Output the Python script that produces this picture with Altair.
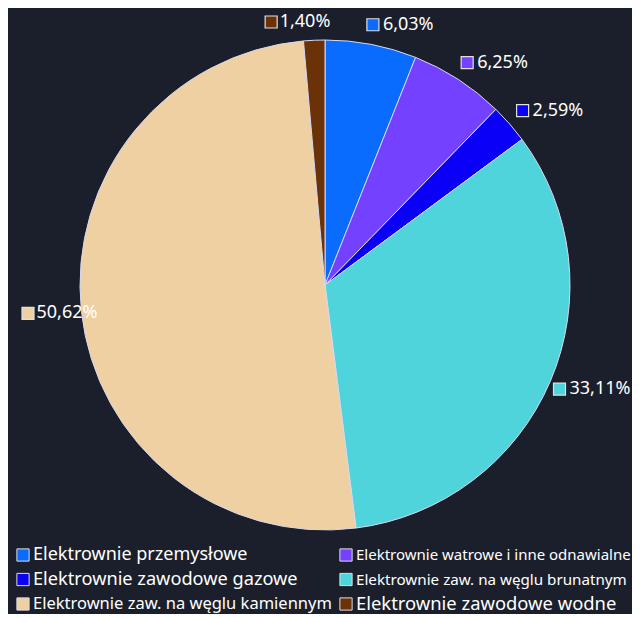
import altair as alt
import pandas as pd

categories = [
    "Elektrownie przemysłowe",
    "Elektrownie watrowe i inne odnawialne",
    "Elektrownie zawodowe gazowe",
    "Elektrownie zaw. na węglu brunatnym",
    "Elektrownie zaw. na węglu kamiennym",
    "Elektrownie zawodowe wodne",
]
values = [6.03, 6.25, 2.59, 33.11, 50.62, 1.40]
colors = ["#0a6cff", "#7341ff", "#0a00f5", "#4fd4dc", "#efd0a2", "#6b3208"]
labels = [f"{v:.2f}".replace(".", ",") + "%" for v in values]

df = pd.DataFrame({"cat": categories, "value": values, "idx": list(range(len(values))), "label": labels})

# style constants
W, H = 624, 606
CX, CY, R, LR = 317, 277, 245, 265
FONT = "Noto Sans"
LEG_SIZES = "[18, 15, 18.2, 15.2, 16.5, 18.4]"   # legend label font sizes by entry
LEG_X0, LEG_X1, LEG_Y0, LEG_DY = 15, 338, 547, 24.5

scale = alt.Scale(domain=categories, range=colors)

base = alt.Chart(df)

pie = base.mark_arc(outerRadius=R, stroke="#d8d8f0", strokeWidth=1).encode(
    theta=alt.Theta("value:Q", stack=True),
    order=alt.Order("idx:Q"),
    color=alt.Color("cat:N", scale=scale, legend=None),
    x=alt.value(CX),
    y=alt.value(CY),
)

lab = (
    base.transform_joinaggregate(total="sum(value)")
    .transform_window(cum="sum(value)", sort=[alt.SortField("idx")], frame=[None, 0])
    .transform_calculate(ang="(datum.cum - datum.value/2)/datum.total*2*PI")
    .transform_calculate(ax=f"{CX} + {LR}*sin(datum.ang)")
    .transform_calculate(ay=f"max(14, {CY} - {LR}*cos(datum.ang))")
    .transform_calculate(tw="(length(datum.label) - 2) * 10.3 + 19.3")
    .transform_calculate(right="sin(datum.ang) >= 0")
    .transform_calculate(
        tx=f"datum.right ? min(datum.ax + 8, {W} - datum.tw - 2) : max(datum.ax + 17, datum.tw + 29)"
    )
    .transform_calculate(
        sx="datum.right ? datum.tx - 10 : datum.tx - datum.tw - 9"
    )
)

squares = lab.mark_square(size=144, stroke="#e0e0e0", strokeWidth=1.2, opacity=1, filled=True).encode(
    x=alt.X("sx:Q", scale=None),
    y=alt.Y("ay:Q", scale=None),
    color=alt.Color("cat:N", scale=scale, legend=None),
)

texts_r = lab.transform_filter("datum.right").mark_text(
    align="left", baseline="middle", fontSize=18, font=FONT, color="#ffffff"
).encode(
    x=alt.X("tx:Q", scale=None),
    y=alt.Y("ay:Q", scale=None),
    text="label:N",
)
texts_l = lab.transform_filter("!datum.right").mark_text(
    align="right", baseline="middle", fontSize=18, font=FONT, color="#ffffff"
).encode(
    x=alt.X("tx:Q", scale=None),
    y=alt.Y("ay:Q", scale=None),
    text="label:N",
)

# legend built from the categories: 2 columns, row by row
leg = (
    base.transform_calculate(col="datum.idx % 2", row="floor(datum.idx / 2)")
    .transform_calculate(lx=f"datum.col == 0 ? {LEG_X0} : {LEG_X1}")
    .transform_calculate(ly=f"{LEG_Y0} + datum.row * {LEG_DY}")
    .transform_calculate(ltx="datum.lx + 10")
    .transform_calculate(fs=f"{LEG_SIZES}[datum.idx]")
)
leg_sq = leg.mark_square(size=150, stroke="#dddddd", strokeWidth=1, opacity=1, filled=True).encode(
    x=alt.X("lx:Q", scale=None),
    y=alt.Y("ly:Q", scale=None),
    color=alt.Color("cat:N", scale=scale, legend=None),
)
leg_tx = leg.mark_text(align="left", baseline="middle", font=FONT, color="#ffffff").encode(
    x=alt.X("ltx:Q", scale=None),
    y=alt.Y("ly:Q", scale=None),
    size=alt.Size("fs:Q", scale=None),
    text="cat:N",
)

chart = (
    alt.layer(pie, squares, texts_r, texts_l, leg_sq, leg_tx)
    .properties(width=W, height=H, padding=0, background="#1b1f2b",
                autosize=alt.AutoSizeParams(type="none"))
    .configure_view(stroke=None)
)

chart.save("out.html", embed_options={"renderer": "svg", "actions": False})
